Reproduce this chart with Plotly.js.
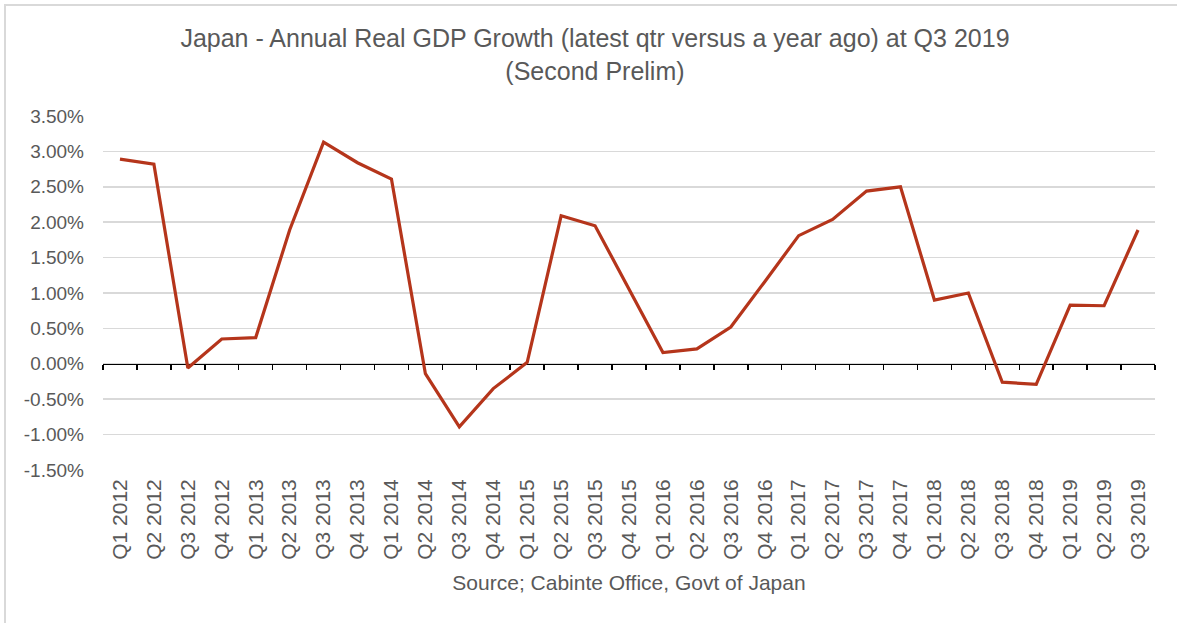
<!DOCTYPE html>
<html>
<head>
<meta charset="utf-8">
<script src="https://cdn.plot.ly/plotly-3.0.1.min.js"></script>
<style>
  html, body { margin: 0; padding: 0; background: #fff; overflow: hidden; }
  #wrap { position: relative; width: 1177px; height: 623px; }
  #chart { position: absolute; left: 0; top: 0; width: 1177px; height: 623px; }
  #frame { position: absolute; left: 4px; top: 4px; width: 1180px; height: 640px;
           border-left: 2px solid #d9d9d9; border-top: 2px solid #d9d9d9; pointer-events: none; }
</style>
</head>
<body>
<div id="wrap">
  <div id="chart"></div>
  <div id="frame"></div>
</div>
<script>
const quarters = [
  "Q1 2012","Q2 2012","Q3 2012","Q4 2012",
  "Q1 2013","Q2 2013","Q3 2013","Q4 2013",
  "Q1 2014","Q2 2014","Q3 2014","Q4 2014",
  "Q1 2015","Q2 2015","Q3 2015","Q4 2015",
  "Q1 2016","Q2 2016","Q3 2016","Q4 2016",
  "Q1 2017","Q2 2017","Q3 2017","Q4 2017",
  "Q1 2018","Q2 2018","Q3 2018","Q4 2018",
  "Q1 2019","Q2 2019","Q3 2019"
];
const gdpGrowth = [
  2.89, 2.82, -0.06, 0.35,
  0.37, 1.89, 3.13, 2.84,
  2.61, -0.14, -0.89, -0.35,
  0.02, 2.09, 1.95, 1.05,
  0.16, 0.21, 0.52, 1.16,
  1.81, 2.04, 2.44, 2.50,
  0.90, 1.00, -0.26, -0.29,
  0.83, 0.82, 1.89
];
const yTicks = [-1.5, -1.0, -0.5, 0, 0.5, 1.0, 1.5, 2.0, 2.5, 3.0, 3.5];
const yTickText = yTicks.map(v => v.toFixed(2) + "%");

const titleText = "Japan - Annual Real GDP Growth (latest qtr versus a year ago) at Q3 2019<br>(Second Prelim)";
const sourceText = "Source; Cabinte Office, Govt of Japan";

const fontFam = "Liberation Sans, Arial, sans-serif";
const grey = "#595959";

const traces = [
  {
    x: quarters, y: gdpGrowth, type: "scatter", mode: "lines",
    line: { color: "#B5351B", width: 3.2 },
    xaxis: "x", yaxis: "y", hoverinfo: "x+y", showlegend: false
  },
  {
    x: quarters, y: quarters.map(() => null), type: "scatter", mode: "lines",
    xaxis: "x2", yaxis: "y", hoverinfo: "skip", showlegend: false
  }
];

const layout = {
  width: 1177, height: 623,
  margin: { l: 103, r: 22, t: 116, b: 153 },
  paper_bgcolor: "#fff", plot_bgcolor: "#fff",
  font: { family: fontFam, color: grey, size: 19 },
  title: {
    text: titleText,
    font: { family: fontFam, size: 25, color: grey },
    x: 0.5055, xanchor: "center", xref: "container",
    y: 0.924, yanchor: "top", yref: "container"
  },
  xaxis: {
    type: "category", categoryorder: "array", categoryarray: quarters,
    range: [-0.5, quarters.length - 0.5],
    showgrid: false, zeroline: false, showline: false, ticks: "",
    tickangle: -90, tickfont: { family: fontFam, size: 21, color: grey },
    ticklabelstandoff: 4,
    automargin: false,
    title: { text: sourceText, font: { family: fontFam, size: 21, color: grey }, standoff: 16 }
  },
  xaxis2: {
    type: "category", categoryorder: "array", categoryarray: quarters,
    range: [-0.5, quarters.length - 0.5],
    overlaying: "x", anchor: "free", position: 0.3,
    showgrid: false, zeroline: false, showline: true, linecolor: "#000", linewidth: 1.5,
    ticks: "outside", ticklen: 5, tickwidth: 1.5, tickcolor: "#000", tickson: "boundaries",
    showticklabels: false, layer: "below traces"
  },
  yaxis: {
    range: [-1.5, 3.5], tickvals: yTicks, ticktext: yTickText,
    showgrid: true, gridcolor: "#d9d9d9", gridwidth: 1.5,
    zeroline: false, showline: false, ticks: "",
    ticklabelstandoff: 18,
    tickfont: { family: fontFam, size: 19, color: grey },
    automargin: false
  },
  showlegend: false
};

Plotly.newPlot("chart", traces, layout, { displayModeBar: false, staticPlot: true });
</script>
</body>
</html>
